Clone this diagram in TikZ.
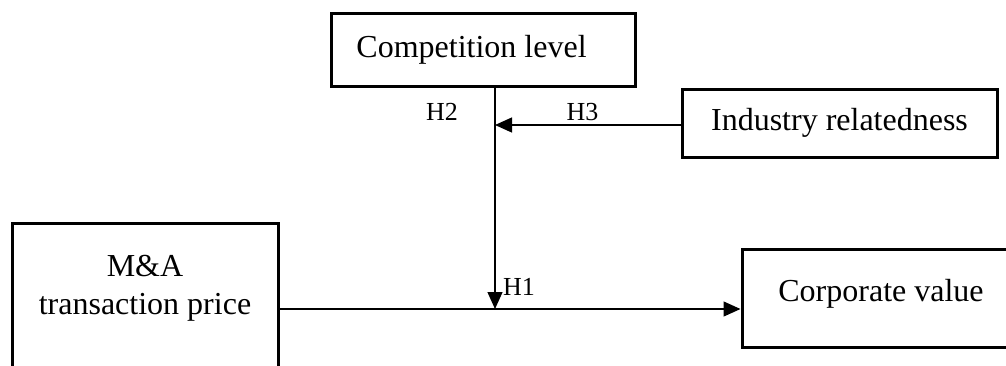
\documentclass[tikz,border=0pt]{standalone}
\usepackage{fontspec}
\setmainfont{Liberation Serif}
\usetikzlibrary{arrows.meta}
\begin{document}
\begin{tikzpicture}[x=1pt,y=-1pt,
  box/.style={draw, line width=3pt, inner sep=0pt, rectangle},
  conn/.style={line width=1.3pt},
  tip/.style={-{Triangle[length=17pt,width=15pt]}},
  main/.style={font=\fontsize{32pt}{38pt}\selectfont},
  hyp/.style={font=\fontsize{26pt}{30pt}\selectfont, inner sep=0pt, anchor=base}]
\useasboundingbox (0,0) rectangle (1006,365);
\clip (0,0) rectangle (1006,365);
% boxes
\node[box, main, minimum width=304pt, minimum height=73pt] (comp) at (483,49.5) {Competition level\kern23pt};
\node[box, main, minimum width=315pt, minimum height=68pt] (ind) at (839.5,123) {Industry relatedness};
\node[box, minimum width=266pt, minimum height=197pt] (ma) at (145,321.5) {};
\node[main, align=center, inner sep=0pt] (matext) at (145,288.7) {M\&A\\transaction price};
\node[box, main, minimum width=278pt, minimum height=98pt, text height=22pt, text depth=16pt] (cv) at (881,298) {Corporate value};
% junctions
\coordinate (j1) at (495,309);
\coordinate (j2) at (495,125);
% connectors
\draw[conn,tip] (comp.south -| j1) -- (j1);
\draw[conn,tip] (ind.west |- j2) -- (j2);
\draw[conn,tip] (ma.east |- j1) -- (cv.west |- j1);
% labels
\node[hyp] (h2) at (442,120) {H2};
\node[hyp] (h3) at (582.5,120) {H3};
\node[hyp] (h1) at (519,295) {H1};
\end{tikzpicture}
\end{document}
